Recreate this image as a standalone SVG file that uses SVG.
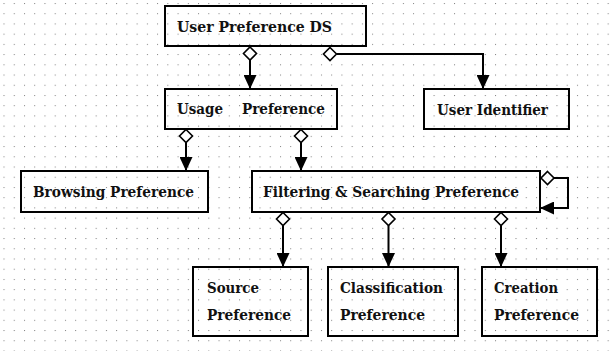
<svg xmlns="http://www.w3.org/2000/svg" width="611" height="351" viewBox="0 0 611 351">
  <style>
    .box { fill: none; stroke: #000; stroke-width: 2; }
    .lbl { font-family: "DejaVu Serif", "Liberation Serif", serif; font-size: 15px; font-weight: bold; fill: #111; }
    .conn { fill: none; stroke: #000; stroke-width: 2; }
    .dia { fill: #fff; stroke: #000; stroke-width: 1.6; }
  </style>
  <defs>
    <pattern id="dots" x="3.5" y="3" width="10.24" height="10.22" patternUnits="userSpaceOnUse">
      <rect width="1" height="1" fill="#808080"/>
    </pattern>
    <marker id="arrow" viewBox="0 0 14 13" refX="14" refY="6.5" markerWidth="14" markerHeight="13" markerUnits="userSpaceOnUse" orient="auto">
      <path d="M0,0 L14,6.5 L0,13 Z" fill="#000"/>
    </marker>
    <path id="diamond" d="M0,-6.5 L6.5,0 L0,6.5 L-6.5,0 Z"/>
  </defs>

  <!-- background with dotted grid -->
  <rect width="611" height="351" fill="#fff"/>
  <rect width="611" height="351" fill="url(#dots)"/>

  <!-- connectors -->
  <g id="connectors">
    <path class="conn" d="M250,60 V89" marker-end="url(#arrow)"/>
    <path class="conn" d="M336.5,54 H483 V89" marker-end="url(#arrow)"/>
    <path class="conn" d="M186,142.5 V171" marker-end="url(#arrow)"/>
    <path class="conn" d="M301,142.5 V171" marker-end="url(#arrow)"/>
    <path class="conn" d="M554,178 H568 V208 H540" marker-end="url(#arrow)"/>
    <path class="conn" d="M283,225.5 V267" marker-end="url(#arrow)"/>
    <path class="conn" d="M388.5,225.5 V267" marker-end="url(#arrow)"/>
    <path class="conn" d="M501,225.5 V267" marker-end="url(#arrow)"/>
    <use href="#diamond" class="dia" x="250" y="53.5"/>
    <use href="#diamond" class="dia" x="330" y="54"/>
    <use href="#diamond" class="dia" x="186" y="136"/>
    <use href="#diamond" class="dia" x="301" y="136"/>
    <use href="#diamond" class="dia" x="547.5" y="178"/>
    <use href="#diamond" class="dia" x="283" y="219"/>
    <use href="#diamond" class="dia" x="388.5" y="219"/>
    <use href="#diamond" class="dia" x="501" y="219"/>
  </g>

  <g id="user-preference-ds">
    <rect class="box" x="165" y="6" width="201" height="40"/>
    <text class="lbl" x="177" y="31.5" textLength="155" lengthAdjust="spacingAndGlyphs">User Preference DS</text>
  </g>

  <g id="usage-preference">
    <rect class="box" x="165" y="89" width="172" height="40"/>
    <text class="lbl" x="177" y="113.5"><tspan textLength="46" lengthAdjust="spacingAndGlyphs">Usage</tspan><tspan x="242" textLength="83" lengthAdjust="spacingAndGlyphs">Preference</tspan></text>
  </g>

  <g id="user-identifier">
    <rect class="box" x="424" y="89" width="145" height="40"/>
    <text class="lbl" x="437" y="115" textLength="111" lengthAdjust="spacingAndGlyphs">User Identifier</text>
  </g>

  <g id="browsing-preference">
    <rect class="box" x="21" y="171" width="187" height="41"/>
    <text class="lbl" x="33" y="197" textLength="161" lengthAdjust="spacingAndGlyphs">Browsing Preference</text>
  </g>

  <g id="filtering-searching-preference">
    <rect class="box" x="252" y="171" width="288" height="41"/>
    <text class="lbl" x="263" y="197" textLength="256" lengthAdjust="spacingAndGlyphs">Filtering &amp; Searching Preference</text>
  </g>

  <g id="source-preference">
    <rect class="box" x="193" y="267" width="115" height="69"/>
    <text class="lbl" x="207" y="293" textLength="52" lengthAdjust="spacingAndGlyphs">Source</text>
    <text class="lbl" x="207" y="320" textLength="84" lengthAdjust="spacingAndGlyphs">Preference</text>
  </g>

  <g id="classification-preference">
    <rect class="box" x="328" y="267" width="130" height="69"/>
    <text class="lbl" x="340" y="293" textLength="103" lengthAdjust="spacingAndGlyphs">Classification</text>
    <text class="lbl" x="340" y="320" textLength="85" lengthAdjust="spacingAndGlyphs">Preference</text>
  </g>

  <g id="creation-preference">
    <rect class="box" x="482" y="267" width="115" height="69"/>
    <text class="lbl" x="494" y="293" textLength="64" lengthAdjust="spacingAndGlyphs">Creation</text>
    <text class="lbl" x="494" y="320" textLength="85" lengthAdjust="spacingAndGlyphs">Preference</text>
  </g>
</svg>
